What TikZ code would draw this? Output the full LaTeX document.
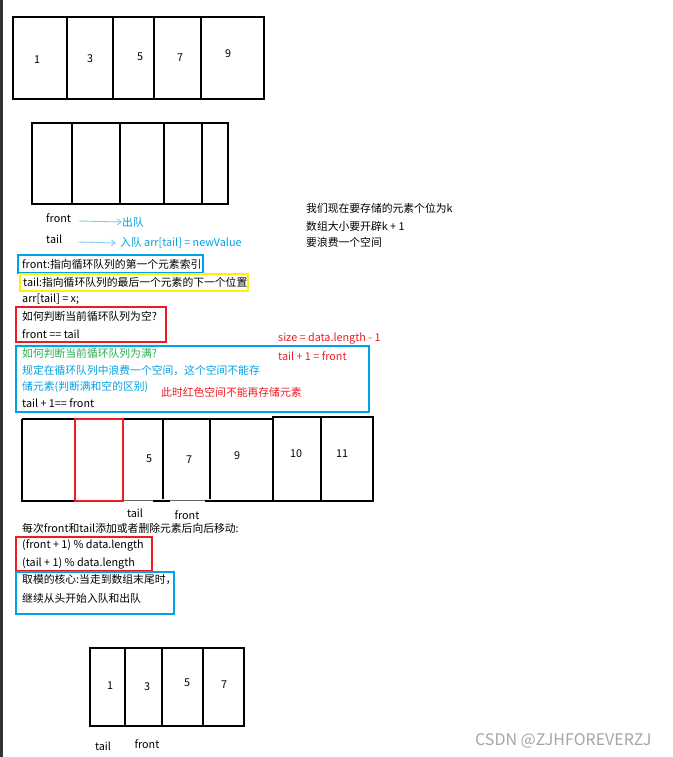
\documentclass[tikz,border=0pt]{standalone}
\usepackage{fontspec}
\setmainfont{Noto Sans CJK SC}
\usetikzlibrary{arrows.meta}
\definecolor{paintblue}{RGB}{0,162,232}
\definecolor{paintred}{RGB}{237,28,36}
\definecolor{paintyellow}{RGB}{255,242,0}
\definecolor{paintgreen}{RGB}{34,177,76}
\definecolor{penblue}{RGB}{130,205,240}

\begin{document}
\begin{tikzpicture}[x=1pt, y=-1pt, font=\fontsize{10.8}{12}\selectfont]
    % Styles
    \tikzstyle{txt} = [anchor=west, inner sep=0pt]
    \tikzstyle{num} = [inner sep=0pt]
    \tikzstyle{cellbox} = [line width=1.8pt, black]
    \tikzstyle{thinedge} = [line width=0.6pt, black!60]
    \tikzstyle{markbox} = [line width=1.8pt]
    \tikzstyle{penarrow} = [penblue, line width=0.9pt, -{Straight Barb[length=4pt, width=6pt]}]

    % Page
    \fill[white] (0,0) rectangle (672,757);
    \useasboundingbox (0,0) rectangle (672,757);
    \fill[black!80] (0,0) rectangle (3,757);

    % First array
    \draw[cellbox] (13,17) rectangle (264,99);
    \foreach \x in {67,113,154,201} \draw[cellbox] (\x,17) -- (\x,99);
    \foreach \x/\y/\n in {37/60/1, 90/59/3, 140/57/5, 180/58/7, 228/54/9}
        \node[num] (first\n) at (\x,\y) {\n};

    % Empty array
    \draw[cellbox] (32,123) rectangle (228,204);
    \foreach \x in {72,120,164,202} \draw[cellbox] (\x,123) -- (\x,204);

    \node[txt] (front) at (46,218) {front};
    \node[txt, paintblue] (dequeue) at (122,222) {出队};
    \node[txt] (tail) at (46,239) {tail};
    \node[txt, paintblue] (enqueue) at (120,243) {入队 arr[tail] = newValue};
    \draw[penarrow] ([xshift=8pt,yshift=-3pt]front.east) -- (dequeue.west);
    \draw[penarrow] ([xshift=16pt,yshift=-3pt]tail.east) -- ([xshift=-4pt]enqueue.west);

    % Note on the right
    \node[txt] (needk) at (306,208) {我们现在要存储的元素个位为k};
    \node[txt] (sizek) at (306,226) {数组大小要开辟k + 1};
    \node[txt] (waste) at (306,242) {要浪费一个空间};

    % Definitions
    \draw[markbox, paintblue] (18,255) rectangle (203,273);
    \node[txt] (frontdef) at (22,264) {front:指向循环队列的第一个元素索引};
    \draw[markbox, paintyellow] (20,274) rectangle (248,291);
    \node[txt] (taildef) at (23,282) {tail:指向循环队列的最后一个元素的下一个位置};
    \node[txt] (assign) at (22,299) {arr[tail] = x;};

    \draw[markbox, paintred] (16,307) rectangle (166,342);
    \node[txt] (emptyq) at (22,316) {如何判断当前循环队列为空?};
    \node[txt] (emptyc) at (22,334) {front == tail};

    \node[txt, paintred] (size) at (278,339) {size = data.length - 1};
    \node[txt, paintred] (fullc2) at (278,356) {tail + 1 = front};

    \draw[markbox, paintblue] (16,346) rectangle (369,412);
    \node[txt, paintgreen] (fullq) at (22,353) {如何判断当前循环队列为满?};
    \node[txt, paintblue] (rule1) at (22,370) {规定在循环队列中浪费一个空间，这个空间不能存};
    \node[txt, paintblue] (rule2) at (22,387) {储元素(判断满和空的区别)};
    \node[txt] (fullc) at (22,403) {tail + 1== front};
    \node[txt, paintred] (redcell) at (161,392) {此时红色空间不能再存储元素};

    % Circular array
    \draw[thinedge] (123,500) -- (153,500);
    \draw[thinedge] (170,500) -- (205,500);
    \draw[cellbox] (22,419) -- (273,419);
    \draw[cellbox] (22,419) -- (22,501) -- (123,501);
    \draw[cellbox] (153,501) -- (170,501);
    \draw[cellbox] (205,501) -- (273,501);
    \foreach \x in {163,210,273} \draw[cellbox] (\x,419) -- (\x,499);
    \draw[cellbox] (273,417) rectangle (321,501);
    \draw[cellbox] (321,417) rectangle (373,501);
    \draw[markbox, paintred] (75,419) rectangle (123,501);
    \foreach \x/\y/\n in {149/459/5, 189/460/7, 237/456/9, 296/454/10, 342/454/11}
        \node[num] (ring\n) at (\x,\y) {\n};
    \node[num] (ringtail) at (135,513) {tail};
    \node[num] (ringfront) at (187,515) {front};

    % Moving the indices
    \node[txt] (move) at (22,528) {每次front和tail添加或者删除元素后向后移动:};
    \draw[markbox, paintred] (16,537) rectangle (152,571);
    \node[txt] (frontmod) at (22,545) {(front + 1) \% data.length};
    \node[txt] (tailmod) at (22,563) {(tail + 1) \% data.length};
    \draw[markbox, paintblue] (16,572) rectangle (174,614);
    \node[txt] (core1) at (22,580) {取模的核心:当走到数组末尾时，};
    \node[txt] (core2) at (22,598) {继续从头开始入队和出队};

    % Last array
    \draw[cellbox] (90,648) rectangle (244,726);
    \foreach \x in {125,162,203} \draw[cellbox] (\x,648) -- (\x,726);
    \foreach \x/\y/\n in {110/686/1, 147/687/3, 187/683/5, 224/685/7}
        \node[num] (last\n) at (\x,\y) {\n};
    \node[num] (lasttail) at (103,746) {tail};
    \node[num] (lastfront) at (147,744) {front};

    % Watermark
    \node[txt, black!35, font=\fontsize{16}{18}\selectfont] (mark) at (475,741) {CSDN @ZJHFOREVERZJ};
\end{tikzpicture}
\end{document}
